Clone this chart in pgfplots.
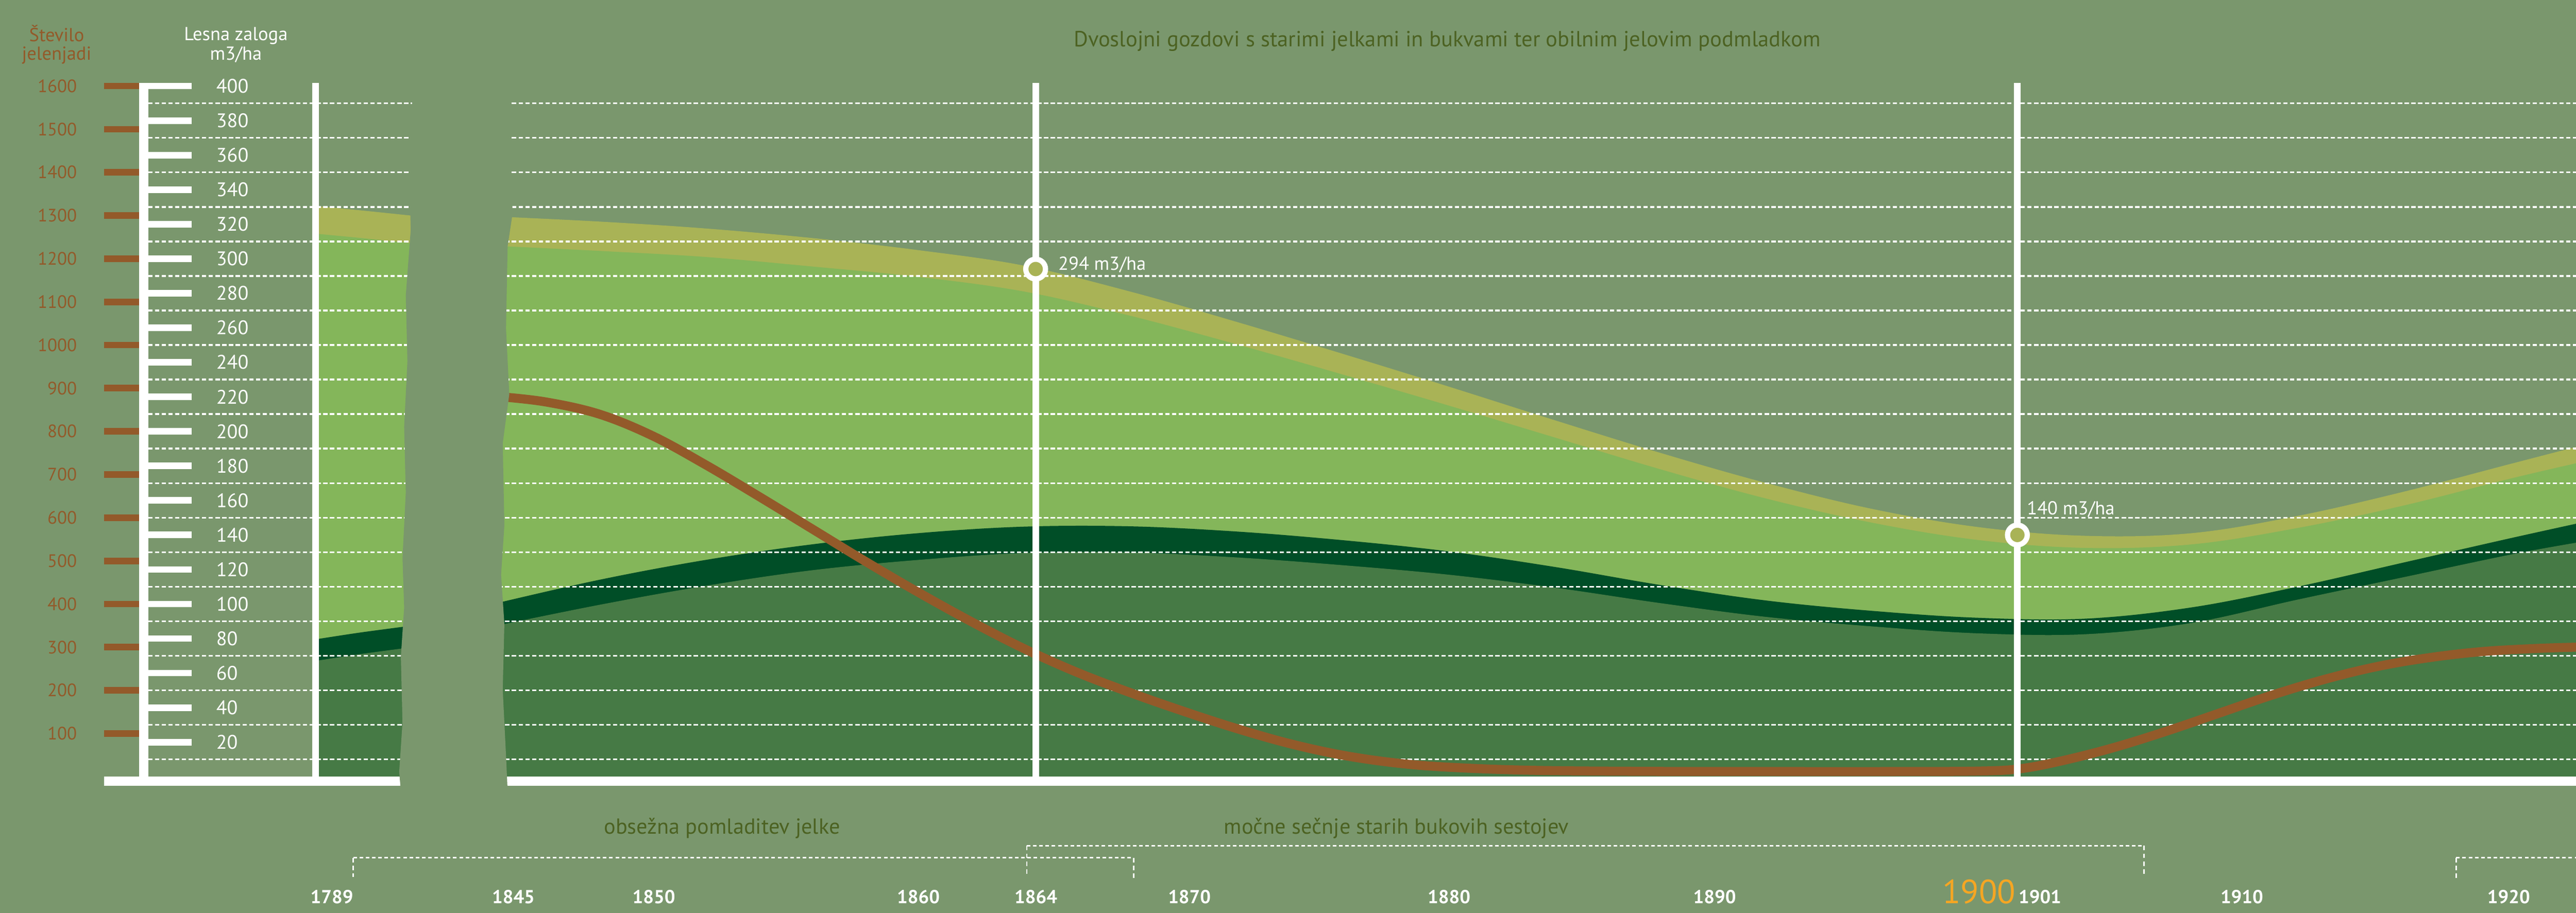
\documentclass[border=0pt]{standalone}
\usepackage{fontspec}
\setmainfont{PT Sans}
\usepackage{pgfplots}
\pgfplotsset{compat=1.18}

\definecolor{bg}{HTML}{7A976D}
\definecolor{khaki}{HTML}{A9B356}
\definecolor{lgreen}{HTML}{84B65A}
\definecolor{dgreen}{HTML}{004E27}
\definecolor{mgreen}{HTML}{467A45}
\definecolor{deer}{HTML}{935A2A}
\definecolor{olive}{HTML}{4C6222}
\definecolor{yearorange}{HTML}{F5A623}

\newcommand\fs[1]{\fontsize{#1}{#1}\selectfont}

\begin{document}
\begin{tikzpicture}[x=1bp,y=1bp]
\useasboundingbox (0,0) rectangle (1568,556);
\fill[bg] (0,0) rectangle (1568,556);

\begin{axis}[at={(88bp,83bp)}, anchor=south west, scale only axis,
  width=1480bp, height=422.7bp,
  xmin=1830.867, xmax=1922.508, ymin=0, ymax=402,
  hide axis]

% --- 1789 (left segment) ---
\addplot[fill=khaki, draw=none, smooth] coordinates {(1837.3,330.5) (1839,328) (1841.2,324.5)} \closedcycle;
\addplot[fill=lgreen, draw=none, smooth] coordinates {(1837.3,314.5) (1839,312) (1841.2,308.5)} \closedcycle;
\addplot[fill=dgreen, draw=none, smooth] coordinates {(1837.3,79.5) (1839,83.5) (1841.2,88)} \closedcycle;
\addplot[fill=mgreen, draw=none, smooth] coordinates {(1837.3,67) (1839,71) (1841.2,75.5)} \closedcycle;

% --- 1845 onwards ---
% lesna zaloga skupaj (zgornji rob)
\addplot[fill=khaki, draw=none, smooth, tension=0.6] coordinates {
 (1844,324.5) (1848,321.5) (1852,317.5) (1856,312) (1860,305) (1864,296)
 (1868,281) (1872,263.5) (1876,245) (1880,226) (1884,206.5) (1888,187.5)
 (1892,170) (1896,155) (1900,144.5) (1904,139.5) (1908,141) (1912,151)
 (1916,165) (1920,181) (1922.508,191)} \closedcycle;
\addplot[fill=lgreen, draw=none, smooth, tension=0.6] coordinates {
 (1844,307.5) (1848,304.5) (1852,301) (1856,295.5) (1860,289.5) (1864,281)
 (1868,267) (1872,250.5) (1876,233) (1880,215) (1884,196.5) (1888,178)
 (1892,161) (1896,147) (1900,137) (1904,132.5) (1908,134.5) (1912,144)
 (1916,157) (1920,172.5) (1922.508,181.5)} \closedcycle;
\addplot[fill=dgreen, draw=none, smooth, tension=0.6] coordinates {
 (1844,100) (1848,114) (1852,125.5) (1856,134.5) (1860,141) (1864,144.8)
 (1868,145) (1872,142) (1876,137) (1880,130.5) (1884,121.5) (1888,111)
 (1892,102) (1896,96) (1900,92) (1904,91.5) (1908,98) (1912,110)
 (1916,124) (1920,138) (1922.508,146.5)} \closedcycle;
\addplot[fill=mgreen, draw=none, smooth, tension=0.6] coordinates {
 (1844,87) (1848,99.5) (1852,110.5) (1856,119.5) (1860,125.5) (1864,129.5)
 (1868,129.8) (1872,127) (1876,122.5) (1880,117) (1884,109.5) (1888,100.5)
 (1892,92.5) (1896,87) (1900,83) (1904,82.5) (1908,89) (1912,102.5)
 (1916,115.5) (1920,128.5) (1922.508,135.5)} \closedcycle;

% mreza
\pgfplotsinvokeforeach{10,30,...,390}{
  \draw[white, line width=1.1bp, dash pattern=on 2.6bp off 1.5bp]
    (axis cs:1831.0,#1) -- (axis cs:1922.508,#1);
}

% stevilo jelenjadi (skala 0-1600 = 0-400)
\addplot[deer, line width=5.5bp, smooth, tension=0.6, y filter/.expression={y/4}] coordinates {
 (1844.3,880) (1846,868) (1848,840) (1850,790) (1852,723) (1854,650)
 (1856,575) (1858,500) (1860,428) (1862,360) (1864,297) (1866,242)
 (1868,195) (1870,152) (1872,112) (1874,77) (1876,50) (1878,32)
 (1880,22) (1883,15) (1887,12.5) (1892,12) (1897,12) (1900,13)
 (1901.5,18) (1903,35) (1905,66) (1907,104) (1909,146) (1911,188)
 (1913,225) (1915,255) (1917,276) (1919,290) (1921,297) (1922.508,300)};

% navpicnice
\draw[white, line width=4bp] (axis cs:1837.307,0) -- (axis cs:1837.307,401.9);
\draw[white, line width=4bp] (axis cs:1864.45,0) -- (axis cs:1864.45,401.9);
\draw[white, line width=4bp] (axis cs:1901.45,0) -- (axis cs:1901.45,401.9);

\addplot[only marks, mark=*, mark size=6bp,
  mark options={fill=khaki, draw=white, line width=3.2bp}]
  coordinates {(1864.45,294) (1901.45,140)};
\end{axis}

% osnovna crta
\fill[white] (63.3,77.5) rectangle (1568,83);

% deblo
\fill[bg] (310,503) -- (311,466) -- (312,426) -- (309,406) -- (308,356) -- (310,316)
  -- (306,286) -- (307,236) -- (305,206) -- (307,176) -- (306,136) -- (308,96)
  -- (309,74) -- (244,74) -- (243,86) -- (245,116) -- (244,156) -- (246,186)
  -- (245,216) -- (247,256) -- (246,296) -- (248,336) -- (247,376) -- (250,416)
  -- (249,456) -- (251,496) -- (250,503) -- cycle;

% skala lesne zaloge
\fill[white] (84.8,77.5) rectangle (90.3,505.6);
\foreach \v in {20,40,...,400} {
  \pgfmathsetmacro\ty{83+\v*1.0515}
  \fill[white] (90,\ty-2) rectangle (116.7,\ty+2);
  \node[anchor=base west, inner sep=0, text=white, font=\fs{12}] at (131.5,\ty-4.2) {\v};
}
% skala jelenjadi
\foreach \d in {100,200,...,1600} {
  \pgfmathsetmacro\ty{83+\d/4*1.0515}
  \fill[deer] (63.4,\ty-2) rectangle (84.8,\ty+2);
  \node[anchor=base east, inner sep=0, text=deer, font=\fs{11}] at (47,\ty-3.85) {\d};
}

\node[anchor=base, inner sep=0, text=white, font=\fs{11.5}] at (143.6,531.3) {Lesna zaloga};
\node[anchor=base, inner sep=0, text=white, font=\fs{11.5}] at (143.6,519.5) {m3/ha};
\node[anchor=base, inner sep=0, text=deer, font=\fs{11.5}] at (34.5,530.8) {Število};
\node[anchor=base, inner sep=0, text=deer, font=\fs{11.5}] at (34.5,519.5) {jelenjadi};

\node[anchor=base, inner sep=0, text=olive, font=\fs{13.4}] at (881,527.7)
  {Dvoslojni gozdovi s starimi jelkami in bukvami ter obilnim jelovim podmladkom};

\node[anchor=base west, inner sep=0, text=white, font=\fs{11.5}] at (644,391.5) {294 m3/ha};
\node[anchor=base west, inner sep=0, text=white, font=\fs{11.5}] at (1233.6,242.5) {140 m3/ha};

% obdobja
\node[anchor=base, inner sep=0, text=olive, font=\fs{13.3}] at (439.5,48) {obsežna pomladitev jelke};
\node[anchor=base, inner sep=0, text=olive, font=\fs{13.3}] at (850,48) {močne sečnje starih bukovih sestojev};
\begin{scope}[white, line width=0.9bp]
  \draw[dash pattern=on 2.2bp off 1.6bp] (215,33.6) -- (690,33.6);
  \draw[dash pattern=on 2.2bp off 1.6bp] (625,41) -- (1305,41);
  \draw[dash pattern=on 2.2bp off 1.6bp] (1495,33.6) -- (1568,33.6);
  \draw[dash pattern=on 2.8bp off 2bp] (215,33.6) -- (215,22);
  \draw[dash pattern=on 2.8bp off 2bp] (690,33.6) -- (690,21.4);
  \draw[dash pattern=on 2.8bp off 2bp] (625,41) -- (625,22);
  \draw[dash pattern=on 2.8bp off 2bp] (1305,41) -- (1305,23);
  \draw[dash pattern=on 2.8bp off 2bp] (1495,33.6) -- (1495,21.4);
\end{scope}

% letnice
\foreach \x/\t in {202/1789, 312.5/1845, 398/1850, 559/1860, 630.5/1864, 724/1870,
                   882/1880, 1043.7/1890, 1364.6/1910, 1527/1920} {
  \node[anchor=base, inner sep=0, text=white, font=\bfseries\fs{11.5}] at (\x,5.8) {\t};
}
\node[anchor=base east, inner sep=0, text=yearorange, font=\fs{20.5}] at (1227,5.8) {1900};
\node[anchor=base west, inner sep=0, text=white, font=\bfseries\fs{11.5}] at (1228.5,5.8) {1901};
\end{tikzpicture}
\end{document}
